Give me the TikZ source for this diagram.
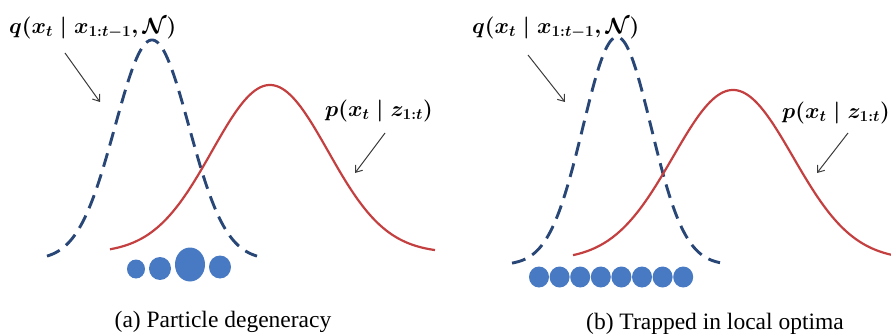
\RequirePackage{fix-cm}
\documentclass[tikz,border=0pt]{standalone}
\usepackage{fontspec}
\setmainfont{Liberation Serif}
\usetikzlibrary{arrows.meta}
\definecolor{qblue}{RGB}{40,70,118}
\definecolor{pred}{RGB}{196,64,64}
\definecolor{dotblue}{RGB}{72,122,196}
\definecolor{arrgray}{RGB}{60,60,60}
\tikzset{
  qcurve/.style={qblue,line width=2.9pt,dash pattern=on 14pt off 8pt},
  pcurve/.style={pred,line width=2.2pt},
  lblarrow/.style={arrgray,line width=1pt,-{Straight Barb[length=6pt,width=9pt]}},
  mathlbl/.style={inner sep=0pt,font=\fontsize{22}{26}\selectfont\boldmath},
  caption/.style={inner sep=0pt,font=\fontsize{23.5}{28}\selectfont},
  particle/.style={fill=dotblue,draw=none}
}
\begin{document}
\begin{tikzpicture}[x=1pt,y=-1pt]
\useasboundingbox (0,0) rectangle (891,334);
% ---------- panel (a) ----------
\draw[qcurve] plot[domain=47:257,samples=120,smooth] (\x,{260-220*exp(-0.5*((\x-152)/37)^2)});
\draw[pcurve] plot[domain=110:435,samples=120,smooth] (\x,{253-168*exp(-0.5*((\x-270)/58)^2)});
\node[mathlbl,anchor=west] (qa) at (9,28) {$q(x_t \mid x_{1:t-1},\mathcal{N})$};
\node[mathlbl,anchor=west] (pa) at (325,111) {$p(x_t \mid z_{1:t})$};
\coordinate (qaS) at (65,53);
\coordinate (qaE) at (100,102);
\coordinate (paS) at (385,133);
\coordinate (paE) at (355,173);
\draw[lblarrow] (qaS) -- (qaE);
\draw[lblarrow] (paS) -- (paE);
\fill[particle] (136,269) ellipse [x radius=9pt,y radius=9.5pt];
\fill[particle] (160,268.5) ellipse [x radius=11pt,y radius=11.5pt];
\fill[particle] (190,264.5) ellipse [x radius=15pt,y radius=17pt];
\fill[particle] (220,267) ellipse [x radius=11pt,y radius=11.5pt];
\node[caption] (capa) at (223,322) {(a) Particle degeneracy};
% ---------- panel (b) ----------
\draw[qcurve] plot[domain=512:720,samples=120,smooth] (\x,{265-228*exp(-0.5*((\x-617)/34)^2)});
\draw[pcurve] plot[domain=573:895,samples=140,smooth] (\x,{260-170*exp(-0.5*((\x-733)/60)^2)});
\node[mathlbl,anchor=west] (qb) at (472,28) {$q(x_t \mid x_{1:t-1},\mathcal{N})$};
\node[mathlbl,anchor=west] (pb) at (782,113) {$p(x_t \mid z_{1:t})$};
\coordinate (qbS) at (528,55);
\coordinate (qbE) at (565,102);
\coordinate (pbS) at (848,133);
\coordinate (pbE) at (817,173);
\draw[lblarrow] (qbS) -- (qbE);
\draw[lblarrow] (pbS) -- (pbE);
\foreach \i in {0,...,7}{
  \fill[particle] ({539+\i*20.6},277) ellipse [x radius=10pt,y radius=10.5pt];
}
\node[caption] (capb) at (715,324) {(b) Trapped in local optima};
\end{tikzpicture}
\end{document}
